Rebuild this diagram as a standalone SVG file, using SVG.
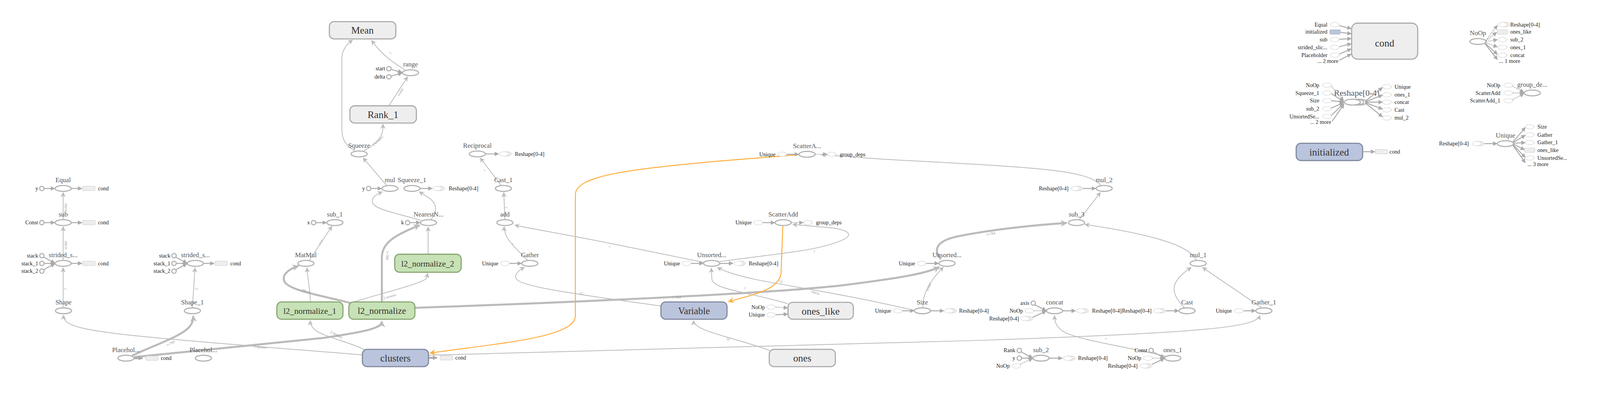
<svg xmlns="http://www.w3.org/2000/svg" width="4351" height="1067" viewBox="0 0 4351 1067">
<style>
text{font-family:"Liberation Serif","Times New Roman",serif}
.e{fill:none;stroke:#bbb;stroke-width:2.1}
.et{fill:none;stroke:#bbb;stroke-width:5.5}
.eo{fill:none;stroke:#ffae3d;stroke-width:2.6}
.op{fill:#fff;stroke:#b3b3b3;stroke-width:3}
.meta{fill:#eee;stroke:#aaa;stroke-width:3}
.grn{fill:#c6e2b6;stroke:#87a470;stroke-width:3}
.blu{fill:#bac4dd;stroke:#7e879c;stroke-width:3}
.lb{font-size:18px;fill:#555;text-anchor:middle}
.ml{font-size:27px;fill:#333;text-anchor:middle}
.sl{font-size:15px;fill:#222}
.el{font-size:10px;fill:#999;text-anchor:middle}
.stub{fill:#fff;stroke:#bbb;stroke-width:1.6;stroke-dasharray:2,2}
.stubr{fill:#eee;stroke:#bbb;stroke-width:1.6;stroke-dasharray:2,2}
.stubb{fill:#bac4dd;stroke:#8a93a8;stroke-width:1.6;stroke-dasharray:2,2}
.cc{fill:#fff;stroke:#b3b3b3;stroke-width:3}
.sa{fill:none;stroke:#aaa;stroke-width:2.6}
.sd{fill:none;stroke:#aaa;stroke-width:2.2;stroke-dasharray:3,2}
.st{fill:none;stroke:#aaa;stroke-width:5}
</style>
<defs>
<marker id="a" viewBox="0 0 10 10" refX="9" refY="5" markerWidth="14" markerHeight="14" markerUnits="userSpaceOnUse" orient="auto"><path d="M0,0 L10,5 L0,10 L3,5 z" fill="#bbb"/></marker>
<marker id="at" viewBox="0 0 10 10" refX="9" refY="5" markerWidth="18" markerHeight="18" markerUnits="userSpaceOnUse" orient="auto"><path d="M0,0 L10,5 L0,10 L3,5 z" fill="#bbb"/></marker>
<marker id="ao" viewBox="0 0 10 10" refX="9" refY="5" markerWidth="16" markerHeight="16" markerUnits="userSpaceOnUse" orient="auto"><path d="M0,0 L10,5 L0,10 L3,5 z" fill="#ffae3d"/></marker>
<marker id="as" viewBox="0 0 10 10" refX="9" refY="5" markerWidth="12" markerHeight="12" markerUnits="userSpaceOnUse" orient="auto"><path d="M0,0 L10,5 L0,10 z" fill="#aaa"/></marker>
<ellipse id="st" rx="12" ry="6" class="stub"/>
<g id="ss"><ellipse cx="8" rx="12" ry="6" class="stub"/><ellipse cx="4" rx="12" ry="6" class="stub"/><ellipse rx="12" ry="6" class="stub"/></g>
<rect id="rs" x="-17" y="-6" width="34" height="12" rx="2" class="stubr"/>
<circle id="c" r="6" class="cc"/>
</defs>
<rect width="4351" height="1067" fill="#fff"/>
<g id="diagram" transform="scale(0.94)">
<g id="edges">
<path class="e" d="M172 837 L172 729" marker-end="url(#a)"/>
<text class="el" transform="translate(182,787) rotate(-90)">?</text>
<path class="e" d="M172 708 L172 617" marker-end="url(#a)"/>
<text class="el" transform="translate(182,667) rotate(-90)">scalar</text>
<path class="e" d="M172 597 L172 524" marker-end="url(#a)"/>
<text class="el" transform="translate(182,565) rotate(-90)">scalar</text>
<path class="e" d="M524 837 L531 729" marker-end="url(#a)"/>
<text class="el" transform="translate(538,787) rotate(-90)">2</text>
<path class="et" d="M360 968 C420 940 480 920 508 897 C524 884 527 872 526 860" marker-end="url(#at)"/>
<text class="el" transform="translate(466,938) rotate(-30)">?×784</text>
<path class="et" d="M366 972 L880 920 C1000 902 1040 893 1040 875" marker-end="url(#at)"/>
<path class="e" d="M987 966 L700 943 C500 926 300 912 220 892 C182 882 173 872 173 858" marker-end="url(#a)"/>
<text class="el" transform="translate(709,948) rotate(5)">2 tensors</text>
<path class="e" d="M993 952 C950 930 880 917 857 897 C846 887 845 880 845 873" marker-end="url(#a)"/>
<text class="el" transform="translate(915,914) rotate(28)">2 tensors</text>
<path class="e" d="M1053 505 L989 430" marker-end="url(#a)"/>
<path class="e" d="M967 411 C940 395 931 380 931 350 L931 160 C931 135 945 120 960 109" marker-end="url(#a)"/>
<path class="e" d="M990 411 C1020 395 1043 375 1043 348 L1043 338" marker-end="url(#a)"/>
<text class="el" transform="translate(1031,386) rotate(-42)">2 tensors</text>
<path class="e" d="M1059 288 L1110 209" marker-end="url(#a)"/>
<text class="el" transform="translate(1093,252) rotate(-58)">scalar</text>
<path class="e" d="M1103 190 C1070 170 1040 150 1012 110" marker-end="url(#a)"/>
<text class="el" transform="translate(1066,147) rotate(-45)">?</text>
<path class="e" d="M1365 505 L1308 430" marker-end="url(#a)"/>
<text class="el" transform="translate(1323,466) rotate(-55)">?</text>
<path class="e" d="M1375 597 L1372 524" marker-end="url(#a)"/>
<text class="el" transform="translate(1383,565) rotate(-90)">?</text>
<path class="e" d="M1437 709 C1405 675 1372 650 1373 617" marker-end="url(#a)"/>
<text class="el" transform="translate(1400,667) rotate(-55)">?</text>
<path class="e" d="M1916 714 L1665 663 C1550 640 1460 625 1402 613" marker-end="url(#a)"/>
<text class="el" transform="translate(1661,667) rotate(190)">?</text>
<path class="e" d="M1800 833 L1650 812 C1500 790 1410 775 1405 757 C1401 745 1415 735 1428 727" marker-end="url(#a)"/>
<text class="el" transform="translate(1583,796) rotate(188)">25</text>
<path class="e" d="M845 822 C845 790 838 760 836 729" marker-end="url(#a)"/>
<path class="et" d="M955 825 C880 805 790 792 775 767 C765 747 790 731 813 724" marker-end="url(#at)"/>
<text class="el" transform="translate(836,790) rotate(198)">?×784</text>
<path class="e" d="M842 709 L904 616" marker-end="url(#a)"/>
<text class="el" transform="translate(877,662) rotate(-58)">?×?</text>
<path class="et" d="M1040 822 L1040 700 C1040 655 1090 635 1143 613" marker-end="url(#at)"/>
<text class="el" transform="translate(1051,695) rotate(90)">?×784</text>
<path class="e" d="M960 823 C1050 795 1150 772 1162 757 L1165 744" marker-end="url(#a)"/>
<text class="el" transform="translate(1062,810) rotate(-16)">2 tensors</text>
<path class="e" d="M1166 692 L1166 618" marker-end="url(#a)"/>
<path class="e" d="M1146 600 C1080 580 1020 570 1015 552 C1010 535 1030 527 1041 522" marker-end="url(#a)"/>
<path class="e" d="M1174 597 C1192 575 1190 555 1170 540 L1142 522" marker-end="url(#a)"/>
<path class="et" d="M1130 838 C1500 825 2100 800 2300 776 C2450 757 2520 745 2558 727" marker-end="url(#at)"/>
<text class="el" transform="translate(1842,813) rotate(-3)">?×784</text>
<path class="e" d="M1960 712 C2080 695 2200 685 2262 665 C2330 645 2322 630 2272 621 L2159 611" marker-end="url(#a)"/>
<text class="el" transform="translate(2218,688) rotate(-12)">?</text>
<path class="e" d="M2146 827 C2050 797 1950 790 1939 762 L1937 730" marker-end="url(#a)"/>
<text class="el" transform="translate(2027,788) rotate(25)">?</text>
<path class="e" d="M2490 845 C2300 800 2150 780 2054 760 C2000 748 1975 739 1954 728" marker-end="url(#a)"/>
<text class="el" transform="translate(2221,795) rotate(195)">scalar</text>
<path class="e" d="M2513 836 C2513 800 2530 768 2569 727" marker-end="url(#a)"/>
<text class="el" transform="translate(2532,782) rotate(-68)">scalar</text>
<path class="e" d="M2096 954 C2000 918 1890 902 1889 873" marker-end="url(#a)"/>
<text class="el" transform="translate(1985,920) rotate(205)">25</text>
<path class="e" d="M1167 967 L2650 927 C3300 905 3420 890 3431 859" marker-end="url(#a)"/>
<path class="e" d="M2998 504 C2960 460 2800 455 2400 433 L2237 421" marker-end="url(#a)"/>
<path class="et" d="M2563 706 C2540 680 2550 655 2610 643 C2700 625 2820 612 2905 607" marker-end="url(#at)"/>
<text class="el" transform="translate(2699,640) rotate(-14)">?×784</text>
<path class="e" d="M3258 708 C3240 670 3150 640 2955 611" marker-end="url(#a)"/>
<path class="e" d="M2940 597 L2997 524" marker-end="url(#a)"/>
<path class="e" d="M3226 838 C3190 800 3180 770 3244 728" marker-end="url(#a)"/>
<path class="e" d="M3435 837 L3275 728" marker-end="url(#a)"/>
<path class="e" d="M3175 970 C3050 940 2960 930 2902 906 C2876 892 2872 876 2872 859" marker-end="url(#a)"/>
<text class="el" transform="translate(3010,926) rotate(15)">?</text>
<path class="eo" d="M2177 421 L1950 439 C1700 462 1567 480 1567 530 L1567 860 C1567 920 1350 935 1171 961" marker-end="url(#ao)"/>
<path class="eo" d="M2132 615 L2127 745 C2120 790 2050 802 1984 821" marker-end="url(#ao)"/>
<text class="el" transform="translate(2124,768) rotate(70)">25</text>
</g>

<g id="Equal">
<ellipse cx="172" cy="513" rx="22" ry="8" class="op"/>
<text class="lb" x="172" y="496">Equal</text>
<use href="#c" x="114" y="513"/><text class="sl" x="104" y="518" text-anchor="end">y</text>
<path class="sa" d="M120 513 L149 513" marker-end="url(#as)"/>
<path class="sa" d="M194 513 L223 513" marker-end="url(#as)"/>
<use href="#rs" x="242" y="513"/><text class="sl" x="267" y="518">cond</text>
</g>
<g id="sub">
<ellipse cx="172" cy="606" rx="22" ry="8" class="op"/>
<text class="lb" x="172" y="589">sub</text>
<use href="#c" x="114" y="606"/><text class="sl" x="104" y="611" text-anchor="end">Const</text>
<path class="sa" d="M120 606 L149 606" marker-end="url(#as)"/>
<path class="sa" d="M194 606 L223 606" marker-end="url(#as)"/>
<use href="#rs" x="242" y="606"/><text class="sl" x="267" y="611">cond</text>
</g>
<g id="strided_slice">
<ellipse cx="172" cy="717" rx="22" ry="8" class="op"/>
<text class="lb" x="172" y="700">strided_s...</text>
<use href="#c" x="114" y="696"/><text class="sl" x="104" y="701" text-anchor="end">stack</text>
<use href="#c" x="114" y="717"/><text class="sl" x="104" y="722" text-anchor="end">stack_1</text>
<use href="#c" x="114" y="738"/><text class="sl" x="104" y="743" text-anchor="end">stack_2</text>
<path class="sa" d="M119 700 L149 716" marker-end="url(#as)"/>
<path class="sa" d="M120 717 L149 717" marker-end="url(#as)"/>
<path class="sa" d="M119 734 L149 718" marker-end="url(#as)"/>
<path class="sa" d="M194 717 L223 717" marker-end="url(#as)"/>
<use href="#rs" x="242" y="717"/><text class="sl" x="267" y="722">cond</text>
</g>
<g id="strided_slice_1">
<ellipse cx="532" cy="717" rx="22" ry="8" class="op"/>
<text class="lb" x="532" y="700">strided_s...</text>
<use href="#c" x="474" y="696"/><text class="sl" x="464" y="701" text-anchor="end">stack</text>
<use href="#c" x="474" y="717"/><text class="sl" x="464" y="722" text-anchor="end">stack_1</text>
<use href="#c" x="474" y="738"/><text class="sl" x="464" y="743" text-anchor="end">stack_2</text>
<path class="sa" d="M479 700 L509 716" marker-end="url(#as)"/>
<path class="sa" d="M480 717 L509 717" marker-end="url(#as)"/>
<path class="sa" d="M479 734 L509 718" marker-end="url(#as)"/>
<path class="sa" d="M554 717 L583 717" marker-end="url(#as)"/>
<use href="#rs" x="602" y="717"/><text class="sl" x="627" y="722">cond</text>
</g>
<g id="Shape"><ellipse cx="173" cy="846" rx="22" ry="8" class="op"/><text class="lb" x="173" y="829">Shape</text></g>
<g id="Shape_1"><ellipse cx="524" cy="846" rx="22" ry="8" class="op"/><text class="lb" x="524" y="829">Shape_1</text></g>
<g id="Placeholder">
<ellipse cx="343" cy="975" rx="22" ry="8" class="op"/>
<text class="lb" x="343" y="958">Placehol...</text>
<path class="st" d="M366 975 L388 975" marker-end="url(#as)"/>
<use href="#rs" x="414" y="975"/><text class="sl" x="438" y="980">cond</text>
</g>
<g id="Placeholder_1"><ellipse cx="554" cy="975" rx="22" ry="8" class="op"/><text class="lb" x="554" y="958">Placehol...</text></g>

<g id="Mean"><rect x="897" y="59" width="181" height="47" rx="13" class="meta"/><text class="ml" x="987" y="92">Mean</text></g>
<g id="range">
<ellipse cx="1118" cy="198" rx="22" ry="8" class="op"/>
<text class="lb" x="1118" y="181">range</text>
<use href="#c" x="1059" y="187"/><text class="sl" x="1049" y="192" text-anchor="end">start</text>
<use href="#c" x="1059" y="209"/><text class="sl" x="1049" y="214" text-anchor="end">delta</text>
<path class="sa" d="M1065 189 L1095 197" marker-end="url(#as)"/>
<path class="sa" d="M1065 207 L1095 199" marker-end="url(#as)"/>
</g>
<g id="Rank_1"><rect x="953" y="288" width="181" height="47" rx="13" class="meta"/><text class="ml" x="1043" y="321">Rank_1</text></g>
<g id="Squeeze"><ellipse cx="978" cy="419" rx="22" ry="8" class="op"/><text class="lb" x="978" y="402">Squeeze</text></g>
<g id="Reciprocal">
<ellipse cx="1300" cy="419" rx="22" ry="8" class="op"/>
<text class="lb" x="1300" y="402">Reciprocal</text>
<path class="sa" d="M1322 419 L1358 419" marker-end="url(#as)"/>
<use href="#ss" x="1373" y="419"/><text class="sl" x="1402" y="424">Reshape[0-4]</text>
</g>
<g id="mul">
<ellipse cx="1062" cy="513" rx="22" ry="8" class="op"/>
<text class="lb" x="1062" y="496">mul</text>
<use href="#c" x="1004" y="513"/><text class="sl" x="994" y="518" text-anchor="end">y</text>
<path class="sa" d="M1010 513 L1039 513" marker-end="url(#as)"/>
</g>
<g id="Squeeze_1">
<ellipse cx="1122" cy="513" rx="22" ry="8" class="op"/>
<text class="lb" x="1122" y="496">Squeeze_1</text>
<path class="sa" d="M1144 513 L1177 513" marker-end="url(#as)"/>
<use href="#ss" x="1191" y="513"/><text class="sl" x="1222" y="518">Reshape[0-4]</text>
</g>
<g id="Cast_1"><ellipse cx="1371" cy="513" rx="22" ry="8" class="op"/><text class="lb" x="1371" y="496">Cast_1</text></g>
<g id="add"><ellipse cx="1375" cy="606" rx="22" ry="8" class="op"/><text class="lb" x="1375" y="589">add</text></g>
<g id="Gather">
<ellipse cx="1443" cy="717" rx="22" ry="8" class="op"/>
<text class="lb" x="1443" y="700">Gather</text>
<use href="#st" x="1375" y="717"/><text class="sl" x="1357" y="722" text-anchor="end">Unique</text>
<path class="sa" d="M1388 717 L1420 717" marker-end="url(#as)"/>
</g>
<g id="sub_1">
<ellipse cx="912" cy="606" rx="22" ry="8" class="op"/>
<text class="lb" x="912" y="589">sub_1</text>
<use href="#c" x="854" y="606"/><text class="sl" x="844" y="611" text-anchor="end">x</text>
<path class="sa" d="M860 606 L889 606" marker-end="url(#as)"/>
</g>
<g id="NearestNeighbors">
<ellipse cx="1167" cy="606" rx="22" ry="8" class="op"/>
<text class="lb" x="1167" y="589">NearestN...</text>
<use href="#c" x="1110" y="606"/><text class="sl" x="1100" y="611" text-anchor="end">k</text>
<path class="sa" d="M1116 606 L1144 606" marker-end="url(#as)"/>
</g>
<g id="MatMul"><ellipse cx="833" cy="717" rx="22" ry="8" class="op"/><text class="lb" x="833" y="700">MatMul</text></g>
<g id="l2_normalize_2"><rect x="1075" y="692" width="181" height="49" rx="13" class="grn"/><text class="ml" x="1165" y="725" style="font-size:23px">l2_normalize_2</text></g>
<g id="l2_normalize_1"><rect x="754" y="822" width="180" height="47" rx="13" class="grn"/><text class="ml" x="844" y="854" style="font-size:23px">l2_normalize_1</text></g>
<g id="l2_normalize"><rect x="950" y="822" width="180" height="47" rx="13" class="grn"/><text class="ml" x="1040" y="854" style="font-size:25px">l2_normalize</text></g>
<g id="clusters">
<rect x="987" y="951" width="180" height="47" rx="13" class="blu"/><text class="ml" x="1077" y="984">clusters</text>
<path class="st" d="M1168 974 L1190 974" marker-end="url(#as)"/>
<use href="#rs" x="1216" y="974"/><text class="sl" x="1240" y="979">cond</text>
</g>

<g id="UnsortedSegmentSum">
<ellipse cx="1938" cy="717" rx="22" ry="8" class="op"/>
<text class="lb" x="1938" y="700">Unsorted...</text>
<use href="#st" x="1870" y="717"/><text class="sl" x="1852" y="722" text-anchor="end">Unique</text>
<path class="sa" d="M1883 717 L1915 717" marker-end="url(#as)"/>
<path class="sa" d="M1960 717 L1996 717" marker-end="url(#as)"/>
<use href="#ss" x="2011" y="717"/><text class="sl" x="2039" y="722">Reshape[0-4]</text>
</g>
<g id="ScatterAdd_1">
<ellipse cx="2198" cy="420" rx="22" ry="8" class="op"/>
<text class="lb" x="2198" y="403">ScatterA...</text>
<use href="#st" x="2130" y="420"/><text class="sl" x="2112" y="425" text-anchor="end">Unique</text>
<path class="sa" d="M2143 420 L2175 420" marker-end="url(#as)"/>
<path class="sd" d="M2221 420 L2252 420" marker-end="url(#as)"/>
<use href="#st" x="2265" y="420"/><text class="sl" x="2287" y="425">group_deps</text>
</g>
<g id="ScatterAdd">
<ellipse cx="2133" cy="606" rx="22" ry="8" class="op"/>
<text class="lb" x="2133" y="589">ScatterAdd</text>
<use href="#st" x="2065" y="606"/><text class="sl" x="2047" y="611" text-anchor="end">Unique</text>
<path class="sa" d="M2078 606 L2110 606" marker-end="url(#as)"/>
<path class="sd" d="M2156 606 L2187 606" marker-end="url(#as)"/>
<use href="#st" x="2200" y="606"/><text class="sl" x="2222" y="611">group_deps</text>
</g>
<g id="Variable"><rect x="1800" y="822" width="180" height="47" rx="13" class="blu"/><text class="ml" x="1890" y="855" style="font-size:26px">Variable</text></g>
<g id="ones_like">
<rect x="2146" y="823" width="178" height="46" rx="13" class="meta"/><text class="ml" x="2235" y="856">ones_like</text>
<use href="#st" x="2100" y="836"/><text class="sl" x="2083" y="841" text-anchor="end">NoOp</text>
<use href="#st" x="2100" y="857"/><text class="sl" x="2083" y="862" text-anchor="end">Unique</text>
<path class="sd" d="M2113 836 L2145 838" marker-end="url(#as)"/>
<path class="sa" d="M2113 857 L2145 855" marker-end="url(#as)"/>
</g>
<g id="ones"><rect x="2095" y="951" width="180" height="47" rx="13" class="meta"/><text class="ml" x="2185" y="984">ones</text></g>
<g id="UnsortedSegmentSum_1">
<ellipse cx="2579" cy="717" rx="22" ry="8" class="op"/>
<text class="lb" x="2579" y="700">Unsorted...</text>
<use href="#st" x="2510" y="717"/><text class="sl" x="2492" y="722" text-anchor="end">Unique</text>
<path class="sa" d="M2523 717 L2556 717" marker-end="url(#as)"/>
</g>
<g id="Size">
<ellipse cx="2512" cy="846" rx="22" ry="8" class="op"/>
<text class="lb" x="2512" y="829">Size</text>
<use href="#st" x="2445" y="846"/><text class="sl" x="2427" y="851" text-anchor="end">Unique</text>
<path class="sa" d="M2458 846 L2489 846" marker-end="url(#as)"/>
<path class="sa" d="M2534 846 L2570 846" marker-end="url(#as)"/>
<use href="#ss" x="2585" y="846"/><text class="sl" x="2612" y="851">Reshape[0-4]</text>
</g>

<g id="sub_3"><ellipse cx="2932" cy="606" rx="22" ry="8" class="op"/><text class="lb" x="2932" y="589">sub_3</text></g>
<g id="mul_2">
<ellipse cx="3007" cy="513" rx="22" ry="8" class="op"/>
<text class="lb" x="3007" y="496">mul_2</text>
<use href="#ss" x="2929" y="513"/><text class="sl" x="2910" y="518" text-anchor="end">Reshape[0-4]</text>
<path class="sa" d="M2950 513 L2984 513" marker-end="url(#as)"/>
</g>
<g id="mul_1"><ellipse cx="3263" cy="717" rx="22" ry="8" class="op"/><text class="lb" x="3263" y="700">mul_1</text></g>
<g id="concat">
<ellipse cx="2872" cy="846" rx="22" ry="8" class="op"/>
<text class="lb" x="2872" y="829">concat</text>
<use href="#c" x="2814" y="825"/><text class="sl" x="2803" y="830" text-anchor="end">axis</text>
<use href="#st" x="2803" y="846"/><text class="sl" x="2786" y="851" text-anchor="end">NoOp</text>
<use href="#ss" x="2792" y="867"/><text class="sl" x="2775" y="872" text-anchor="end">Reshape[0-4]</text>
<path class="sa" d="M2818 830 L2849 845" marker-end="url(#as)"/>
<path class="sd" d="M2816 846 L2849 846" marker-end="url(#as)"/>
<path class="sa" d="M2812 864 L2849 847" marker-end="url(#as)"/>
<path class="sa" d="M2894 846 L2929 846" marker-end="url(#as)"/>
<use href="#ss" x="2944" y="846"/><text class="sl" x="2974" y="851">Reshape[0-4]</text>
</g>
<g id="Cast">
<ellipse cx="3233" cy="846" rx="22" ry="8" class="op"/>
<text class="lb" x="3233" y="829">Cast</text>
<use href="#ss" x="3154" y="846"/><text class="sl" x="3136" y="851" text-anchor="end">Reshape[0-4]</text>
<path class="sa" d="M3175 846 L3210 846" marker-end="url(#as)"/>
</g>
<g id="Gather_1">
<ellipse cx="3442" cy="846" rx="22" ry="8" class="op"/>
<text class="lb" x="3442" y="829">Gather_1</text>
<use href="#st" x="3374" y="846"/><text class="sl" x="3355" y="851" text-anchor="end">Unique</text>
<path class="sa" d="M3387 846 L3419 846" marker-end="url(#as)"/>
</g>
<g id="sub_2">
<ellipse cx="2835" cy="975" rx="22" ry="8" class="op"/>
<text class="lb" x="2835" y="958">sub_2</text>
<use href="#c" x="2776" y="954"/><text class="sl" x="2765" y="959" text-anchor="end">Rank</text>
<use href="#c" x="2776" y="975"/><text class="sl" x="2765" y="980" text-anchor="end">y</text>
<use href="#st" x="2768" y="996"/><text class="sl" x="2750" y="1001" text-anchor="end">NoOp</text>
<path class="sa" d="M2781 958 L2812 974" marker-end="url(#as)"/>
<path class="sa" d="M2782 975 L2812 975" marker-end="url(#as)"/>
<path class="sd" d="M2779 991 L2812 976" marker-end="url(#as)"/>
<path class="sa" d="M2857 975 L2893 975" marker-end="url(#as)"/>
<use href="#ss" x="2908" y="975"/><text class="sl" x="2936" y="980">Reshape[0-4]</text>
</g>
<g id="ones_1">
<ellipse cx="3194" cy="975" rx="22" ry="8" class="op"/>
<text class="lb" x="3194" y="958">ones_1</text>
<use href="#c" x="3135" y="954"/><text class="sl" x="3125" y="959" text-anchor="end">Const</text>
<use href="#st" x="3126" y="975"/><text class="sl" x="3108" y="980" text-anchor="end">NoOp</text>
<use href="#ss" x="3117" y="996"/><text class="sl" x="3098" y="1001" text-anchor="end">Reshape[0-4]</text>
<path class="sa" d="M3140 958 L3171 974" marker-end="url(#as)"/>
<path class="sd" d="M3139 975 L3171 975" marker-end="url(#as)"/>
<path class="sa" d="M3137 992 L3171 976" marker-end="url(#as)"/>
</g>

<g id="cond">
<rect x="3681" y="63" width="180" height="98" rx="16" class="meta"/>
<text class="ml" x="3771" y="127">cond</text>
<use href="#st" x="3635" y="67"/><text class="sl" x="3615" y="72" text-anchor="end">Equal</text>
<rect x="3622" y="81" width="28" height="12" rx="2" class="stubb"/><text class="sl" x="3615" y="92" text-anchor="end">initialized</text>
<use href="#st" x="3635" y="108"/><text class="sl" x="3615" y="113" text-anchor="end">sub</text>
<use href="#st" x="3635" y="129"/><text class="sl" x="3615" y="134" text-anchor="end">strided_slic...</text>
<use href="#st" x="3635" y="150"/><text class="sl" x="3615" y="155" text-anchor="end">Placeholder</text>
<text class="sl" x="3645" y="171" text-anchor="end">... 2 more</text>
<path class="sa" d="M3648 70 L3680 78" marker-end="url(#as)"/>
<path class="sa" d="M3651 88 L3680 92" marker-end="url(#as)"/>
<path class="sa" d="M3648 107 L3680 105" marker-end="url(#as)"/>
<path class="sa" d="M3648 127 L3680 119" marker-end="url(#as)"/>
<path class="sa" d="M3648 147 L3680 133" marker-end="url(#as)"/>
<path class="sa" d="M3648 164 L3680 147" marker-end="url(#as)"/>
</g>
<g id="NoOp">
<ellipse cx="4025" cy="113" rx="22" ry="8" class="op"/>
<text class="lb" x="4025" y="96">NoOp</text>
<path class="sd" d="M4047 110 L4078 69" marker-end="url(#as)"/>
<path class="sd" d="M4047 111 L4076 88" marker-end="url(#as)"/>
<path class="sd" d="M4047 113 L4078 108" marker-end="url(#as)"/>
<path class="sd" d="M4046 116 L4078 128" marker-end="url(#as)"/>
<path class="sa" d="M4045 118 L4078 148" marker-end="url(#as)"/>
<path class="sa" d="M4044 119 L4078 162" marker-end="url(#as)"/>
<use href="#ss" x="4092" y="67"/><text class="sl" x="4113" y="72">Reshape[0-4]</text>
<rect x="4078" y="81" width="28" height="12" rx="2" class="stubr"/><text class="sl" x="4113" y="92">ones_like</text>
<use href="#st" x="4092" y="108"/><text class="sl" x="4113" y="113">sub_2</text>
<use href="#st" x="4092" y="129"/><text class="sl" x="4113" y="134">ones_1</text>
<use href="#st" x="4092" y="150"/><text class="sl" x="4113" y="155">concat</text>
<text class="sl" x="4083" y="171">... 1 more</text>
</g>
<g id="Reshape_series">
<ellipse cx="3701" cy="278" rx="22" ry="8" class="op"/>
<ellipse cx="3692" cy="278" rx="22" ry="8" class="op"/>
<ellipse cx="3683" cy="278" rx="22" ry="8" class="op"/>
<text class="lb" x="3695" y="261" style="font-size:23px">Reshape[0-4]</text>
<use href="#st" x="3614" y="232"/><text class="sl" x="3593" y="237" text-anchor="end">NoOp</text>
<use href="#st" x="3614" y="253"/><text class="sl" x="3593" y="258" text-anchor="end">Squeeze_1</text>
<use href="#st" x="3614" y="274"/><text class="sl" x="3593" y="279" text-anchor="end">Size</text>
<use href="#st" x="3614" y="296"/><text class="sl" x="3593" y="301" text-anchor="end">sub_2</text>
<use href="#st" x="3614" y="317"/><text class="sl" x="3593" y="322" text-anchor="end">UnsortedSe...</text>
<text class="sl" x="3625" y="337" text-anchor="end">... 2 more</text>
<path class="sd" d="M3626 235 L3659 274" marker-end="url(#as)"/>
<path class="sa" d="M3626 255 L3659 276" marker-end="url(#as)"/>
<path class="sa" d="M3626 274 L3659 278" marker-end="url(#as)"/>
<path class="sa" d="M3626 294 L3659 280" marker-end="url(#as)"/>
<path class="sa" d="M3626 314 L3659 282" marker-end="url(#as)"/>
<path class="sa" d="M3628 330 L3660 284" marker-end="url(#as)"/>
<path class="sa" d="M3718 276 L3765 238" marker-end="url(#as)"/>
<path class="sa" d="M3718 277 L3765 259" marker-end="url(#as)"/>
<path class="sa" d="M3718 278 L3765 278" marker-end="url(#as)"/>
<path class="sa" d="M3718 279 L3765 297" marker-end="url(#as)"/>
<path class="sa" d="M3718 280 L3765 318" marker-end="url(#as)"/>
<use href="#st" x="3777" y="236"/><text class="sl" x="3798" y="241">Unique</text>
<use href="#st" x="3777" y="258"/><text class="sl" x="3798" y="263">ones_1</text>
<use href="#st" x="3777" y="278"/><text class="sl" x="3798" y="283">concat</text>
<use href="#st" x="3777" y="299"/><text class="sl" x="3798" y="304">Cast</text>
<use href="#st" x="3777" y="321"/><text class="sl" x="3798" y="326">mul_2</text>
</g>
<g id="group_deps">
<ellipse cx="4173" cy="253" rx="22" ry="8" class="op"/>
<text class="lb" x="4173" y="236">group_de...</text>
<use href="#st" x="4108" y="232"/><text class="sl" x="4086" y="237" text-anchor="end">NoOp</text>
<use href="#st" x="4108" y="253"/><text class="sl" x="4086" y="258" text-anchor="end">ScatterAdd</text>
<use href="#st" x="4108" y="274"/><text class="sl" x="4086" y="279" text-anchor="end">ScatterAdd_1</text>
<path class="sd" d="M4120 235 L4150 251" marker-end="url(#as)"/>
<path class="sd" d="M4120 253 L4150 253" marker-end="url(#as)"/>
<path class="sd" d="M4120 271 L4150 255" marker-end="url(#as)"/>
</g>
<g id="initialized">
<rect x="3530" y="390" width="181" height="47" rx="13" class="blu"/><text class="ml" x="3620" y="423">initialized</text>
<path class="sa" d="M3712 413 L3744 413" marker-end="url(#as)"/>
<use href="#rs" x="3762" y="413"/><text class="sl" x="3784" y="418">cond</text>
</g>
<g id="Unique">
<ellipse cx="4100" cy="391" rx="22" ry="8" class="op"/>
<text class="lb" x="4100" y="374">Unique</text>
<use href="#ss" x="4022" y="391"/><text class="sl" x="4000" y="396" text-anchor="end">Reshape[0-4]</text>
<path class="sa" d="M4043 391 L4077 391" marker-end="url(#as)"/>
<path class="sa" d="M4120 387 L4154 347" marker-end="url(#as)"/>
<path class="sa" d="M4121 388 L4154 368" marker-end="url(#as)"/>
<path class="sa" d="M4122 390 L4154 388" marker-end="url(#as)"/>
<path class="sa" d="M4122 392 L4152 408" marker-end="url(#as)"/>
<path class="sa" d="M4121 394 L4154 429" marker-end="url(#as)"/>
<path class="sa" d="M4120 395 L4154 443" marker-end="url(#as)"/>
<use href="#st" x="4166" y="345"/><text class="sl" x="4187" y="350">Size</text>
<use href="#st" x="4166" y="367"/><text class="sl" x="4187" y="372">Gather</text>
<use href="#st" x="4166" y="388"/><text class="sl" x="4187" y="393">Gather_1</text>
<rect x="4152" y="403" width="28" height="12" rx="2" class="stubr"/><text class="sl" x="4187" y="414">ones_like</text>
<use href="#st" x="4166" y="430"/><text class="sl" x="4187" y="435">UnsortedSe...</text>
<text class="sl" x="4160" y="452">... 3 more</text>
</g>
</g>
</svg>
